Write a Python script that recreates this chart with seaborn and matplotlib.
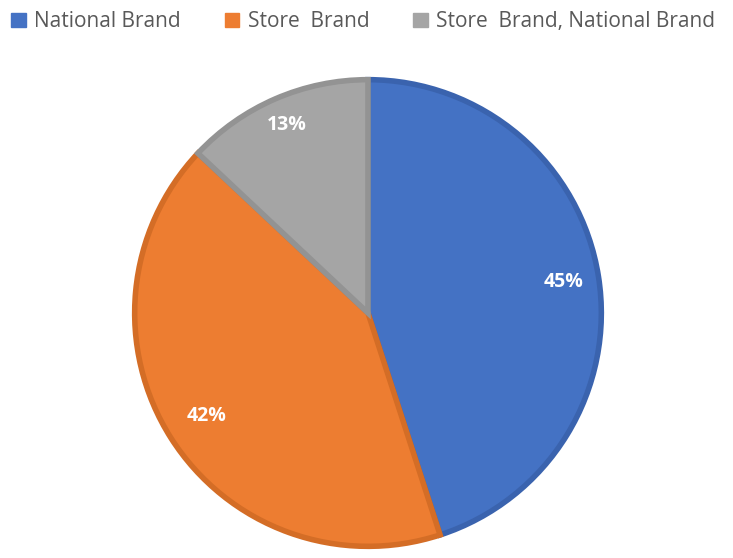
import matplotlib
matplotlib.use("Agg")
import numpy as np
import matplotlib.pyplot as plt
import seaborn as sns
from matplotlib.patches import Patch

categories = ["National Brand", "Store  Brand", "Store  Brand, National Brand"]
shares = [45, 42, 13]
pct_labels = ["45%", "42%", "13%"]
label_radius = [0.85, 0.82, 0.88]

fill_colors = ["#4472C4", "#ED7D31", "#A5A5A5"]
edge_colors = ["#3A63AE", "#D46D26", "#939393"]

sns.set_theme(style="white")
plt.rcParams["font.family"] = ["Open Sans", "DejaVu Sans"]

W, H = 733, 558
fig = plt.figure(figsize=(W / 100, H / 100), dpi=100)
fig.patch.set_facecolor("white")

cx, cy, r = 368, 313, 238
ax = fig.add_axes([(cx - r) / W, (H - cy - r) / H, 2 * r / W, 2 * r / H])

palette = sns.color_palette(fill_colors)
wedges, texts = ax.pie(
    shares,
    colors=palette,
    startangle=90,
    counterclock=False,
    labels=pct_labels,
    wedgeprops=dict(linewidth=4),
    textprops=dict(color="white", fontsize=14, fontweight="bold"),
)
for w, ec, t, d in zip(wedges, edge_colors, texts, label_radius):
    w.set_edgecolor(ec)
    mid = np.deg2rad((w.theta1 + w.theta2) / 2)
    t.set_position((d * np.cos(mid), d * np.sin(mid)))
    t.set_ha("center")
    t.set_va("center")
ax.set_xlim(-1.02, 1.02)
ax.set_ylim(-1.02, 1.02)
ax.axis("off")

handles = [Patch(facecolor=c, edgecolor=c) for c in fill_colors]
fig.legend(
    handles, categories,
    loc="upper left", bbox_to_anchor=(0.0, 1.0),
    ncol=3, frameon=False, fontsize=15,
    handlelength=0.7, handleheight=0.7, handletextpad=0.4,
    columnspacing=2.1, borderaxespad=0.2, borderpad=0.35,
    labelcolor="#595959",
)

fig.savefig("out.png", dpi=100)
